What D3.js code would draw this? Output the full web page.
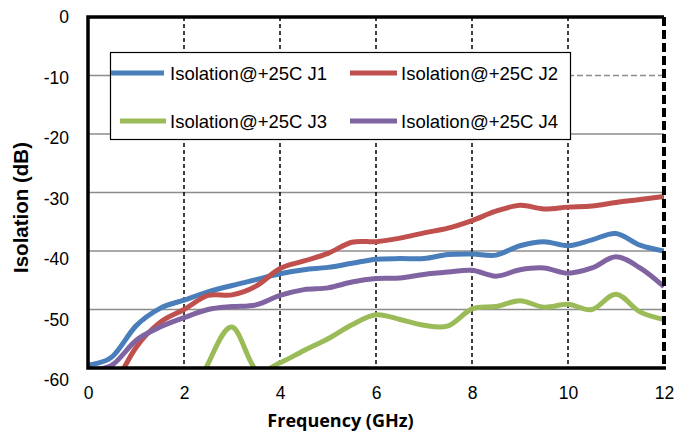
<!DOCTYPE html>
<html>
<head>
<meta charset="utf-8">
<script src="https://cdn.jsdelivr.net/npm/d3@7"></script>
<style>
  body { margin: 0; background: #fff; }
  svg { display: block; font-family: "Liberation Sans", Arial, sans-serif; }
</style>
</head>
<body>
<svg id="chart"></svg>
<script>
// frequency points (GHz)
const freq = [0, 0.5, 1, 1.5, 2, 2.5, 3, 3.5, 4, 4.5, 5, 5.5, 6, 6.5, 7, 7.5, 8, 8.5, 9, 9.5, 10, 10.5, 11, 11.5, 12];

const j1 = [-59.5, -58.1, -52.8, -49.8, -48.4, -47.0, -45.9, -44.9, -43.9, -43.2, -42.8, -42.1, -41.4, -41.3, -41.3, -40.6, -40.5, -40.7, -39.1, -38.4, -39.1, -38.1, -37.0, -39.0, -40.0];
const j2 = [null, -64.0, -56.5, -52.2, -50.0, -47.6, -47.5, -46.0, -43.0, -41.7, -40.4, -38.5, -38.4, -37.8, -36.9, -36.1, -34.8, -33.2, -32.2, -32.8, -32.5, -32.3, -31.7, -31.2, -30.7];
const j3 = [null, null, null, null, -70.0, -59.3, -53.0, -60.3, -59.1, -57.0, -55.0, -52.6, -50.9, -51.7, -52.7, -52.8, -49.9, -49.5, -48.5, -49.6, -49.1, -50.0, -47.4, -50.4, -51.7];
const j4 = [-60.3, -59.5, -55.3, -53.0, -51.4, -50.0, -49.5, -49.2, -47.6, -46.6, -46.3, -45.3, -44.7, -44.6, -44.0, -43.6, -43.3, -44.3, -43.2, -42.9, -43.8, -42.9, -41.0, -42.9, -46.1];

const seriesNames = ["Isolation@+25C J1", "Isolation@+25C J2", "Isolation@+25C J3", "Isolation@+25C J4"];
const seriesValues = [j1, j2, j3, j4];
const seriesColors = ["#4a7ebb", "#c0504d", "#9bbb59", "#8064a2"];

const xTicks = [0, 2, 4, 6, 8, 10, 12];
const yTicks = [0, -10, -20, -30, -40, -50, -60];

const width = 680;
const height = 432;
const margin = { left: 88, right: 16, top: 17, bottom: 64 };

const svg = d3.select("#chart")
    .attr("width", width)
    .attr("height", height);

const x = d3.scaleLinear().domain([0, 12]).range([margin.left, width - margin.right]);
const y = d3.scaleLinear().domain([-60, 0]).range([height - margin.bottom, margin.top]);
// the value labels sit a little lower than the grid as they go down
const yLabel = d3.scaleLinear().domain([-60, 0]).range([380, 17]);

svg.append("defs").append("clipPath")
    .attr("id", "plot-clip")
    .append("rect")
    .attr("x", x(0))
    .attr("y", y(0))
    .attr("width", x(12) - x(0))
    .attr("height", y(-60) - y(0));

// horizontal grid
svg.append("g")
    .selectAll("line")
    .data(yTicks.filter(d => d > -60 && d < 0))
    .join("line")
    .attr("x1", x(0))
    .attr("x2", x(12))
    .attr("y1", d => y(d))
    .attr("y2", d => y(d))
    .style("stroke", "#8c8c8c")
    .style("stroke-width", 1.5)
    .style("stroke-dasharray", d => d === -10 ? "480,0,6,3,6,3,6,3,6,3,6,3,6,3,6,3,6,3,6,3,6,3,6,3" : null);

// vertical dashed grid
svg.append("g")
    .selectAll("line")
    .data(xTicks.filter(d => d > 0 && d < 12))
    .join("line")
    .attr("x1", d => x(d))
    .attr("x2", d => x(d))
    .attr("y1", y(0))
    .attr("y2", y(-60))
    .style("stroke", "#000")
    .style("stroke-width", 1.5)
    .style("stroke-dasharray", "4,3");

// series
const line = d3.line()
    .defined(d => d[1] != null)
    .x(d => x(d[0]))
    .y(d => y(d[1]))
    .curve(d3.curveCardinal);

svg.append("g")
    .attr("clip-path", "url(#plot-clip)")
    .selectAll("path")
    .data(seriesValues)
    .join("path")
    .attr("d", vals => line(freq.map((f, i) => [f, vals[i]])))
    .style("fill", "none")
    .style("stroke", (d, i) => seriesColors[i])
    .style("stroke-width", 5)
    .style("stroke-linejoin", "round");

// frame
svg.append("line")
    .attr("x1", x(12)).attr("x2", x(12))
    .attr("y1", y(0)).attr("y2", y(-60))
    .style("stroke", "#000").style("stroke-width", 4)
    .style("stroke-dasharray", "9,4");
svg.append("path")
    .attr("d", `M${x(12)},${y(0)}H${x(0)}V${y(-60)}H${x(12) + 2}`)
    .style("fill", "none")
    .style("stroke", "#000")
    .style("stroke-width", 3.5);

// axes labels
const xAxis = d3.axisBottom(x).tickValues(xTicks).tickSize(0).tickPadding(19).tickFormat(d => String(d));
svg.append("g")
    .attr("transform", `translate(0,${y(-60)})`)
    .call(xAxis)
    .call(g => g.select(".domain").remove())
    .call(g => g.selectAll("text")
        .style("font-family", "'Liberation Sans', Arial, sans-serif")
        .style("font-size", "17.5px")
        .style("fill", "#000"));

const yAxis = d3.axisLeft(yLabel).tickValues(yTicks).tickSize(0).tickPadding(19).tickFormat(d => String(d));
svg.append("g")
    .attr("transform", `translate(${x(0)},0)`)
    .call(yAxis)
    .call(g => g.select(".domain").remove())
    .call(g => g.selectAll("text")
        .style("font-family", "'Liberation Sans', Arial, sans-serif")
        .style("font-size", "17.5px")
        .style("fill", "#000"));

svg.append("text")
    .attr("x", 340.5)
    .attr("y", 427)
    .attr("text-anchor", "middle")
    .style("font-family", "'Open Sans', sans-serif")
    .style("font-weight", "bold")
    .style("font-size", "18px")
    .text("Frequency (GHz)");

svg.append("text")
    .attr("transform", "translate(28,207.5) rotate(-90)")
    .attr("text-anchor", "middle")
    .style("font-family", "'Liberation Sans', Arial, sans-serif")
    .style("font-weight", "bold")
    .style("font-size", "20.5px")
    .text("Isolation (dB)");

// legend
const legend = svg.append("g");
legend.append("rect")
    .attr("x", 110.5).attr("y", 52.5)
    .attr("width", 460).attr("height", 87)
    .style("fill", "#fff")
    .style("stroke", "#000")
    .style("stroke-width", 1.2);

const legendPos = [
    { lx1: 111, lx2: 164, tx: 170, cy: 73 },
    { lx1: 350, lx2: 397, tx: 401, cy: 73 },
    { lx1: 120, lx2: 166, tx: 170, cy: 121 },
    { lx1: 350, lx2: 397, tx: 401, cy: 121 }
];

const items = legend.selectAll("g.item")
    .data(seriesNames)
    .join("g")
    .attr("class", "item");

items.append("line")
    .attr("x1", (d, i) => legendPos[i].lx1)
    .attr("x2", (d, i) => legendPos[i].lx2)
    .attr("y1", (d, i) => legendPos[i].cy)
    .attr("y2", (d, i) => legendPos[i].cy)
    .style("stroke", (d, i) => seriesColors[i])
    .style("stroke-width", 5);

items.append("text")
    .attr("x", (d, i) => legendPos[i].tx)
    .attr("y", (d, i) => legendPos[i].cy + 6.5)
    .style("font-size", "18.5px")
    .style("fill", "#000")
    .text(d => d);
</script>
</body>
</html>
